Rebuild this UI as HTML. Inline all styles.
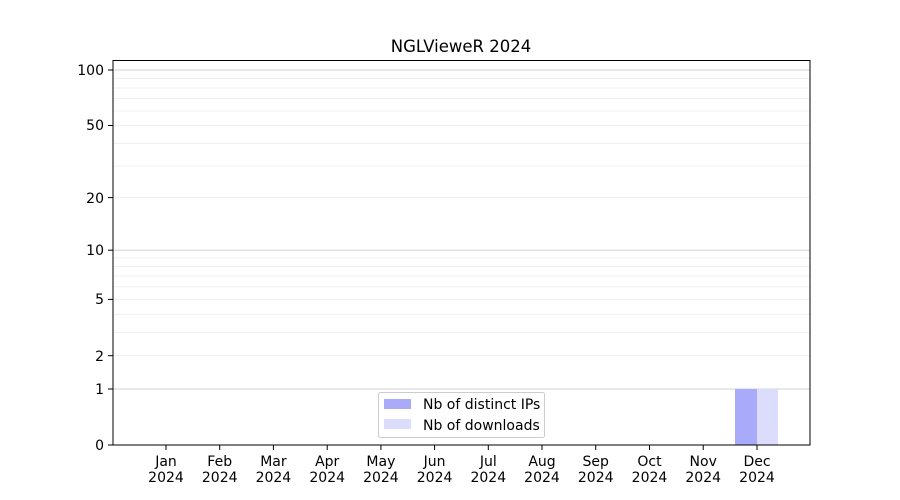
<!DOCTYPE html>
<html><head><style>body{margin:0;background:#fff}svg{display:block}text{font-family:"DejaVu Sans","Liberation Sans",sans-serif;font-size:14px;fill:#000}</style></head>
<body>
<svg width="900" height="500" xmlns="http://www.w3.org/2000/svg">
<rect width="900" height="500" fill="#fff"/>
<g stroke="#ebebeb" stroke-width="0.8">
<line x1="113" x2="810" y1="355.7" y2="355.7"/><line x1="113" x2="810" y1="332.4" y2="332.4"/>
<line x1="113" x2="810" y1="314.2" y2="314.2"/><line x1="113" x2="810" y1="299.4" y2="299.4"/>
<line x1="113" x2="810" y1="286.9" y2="286.9"/><line x1="113" x2="810" y1="276" y2="276"/>
<line x1="113" x2="810" y1="266.5" y2="266.5"/><line x1="113" x2="810" y1="257.9" y2="257.9"/>
<line x1="113" x2="810" y1="197.6" y2="197.6"/><line x1="113" x2="810" y1="166" y2="166"/>
<line x1="113" x2="810" y1="143.3" y2="143.3"/><line x1="113" x2="810" y1="125.5" y2="125.5"/>
<line x1="113" x2="810" y1="111" y2="111"/><line x1="113" x2="810" y1="98.6" y2="98.6"/>
<line x1="113" x2="810" y1="88" y2="88"/><line x1="113" x2="810" y1="78.5" y2="78.5"/>
</g>
<g stroke="#d0d0d0" stroke-width="1">
<line x1="113" x2="810" y1="389" y2="389"/><line x1="113" x2="810" y1="250.2" y2="250.2"/><line x1="113" x2="810" y1="70" y2="70"/>
</g>
<rect x="735" y="389" width="22" height="56" fill="#aaaafb"/>
<rect x="757" y="389" width="21" height="56" fill="#dcdcfc"/>
<rect x="113" y="60.5" width="697" height="384.5" fill="none" stroke="#000" stroke-width="1"/>
<g stroke="#000">
<line x1="108" x2="113" y1="445" y2="445"/><line x1="108" x2="113" y1="389" y2="389"/>
<line x1="108" x2="113" y1="355.7" y2="355.7"/><line x1="108" x2="113" y1="299.4" y2="299.4"/>
<line x1="108" x2="113" y1="250.2" y2="250.2"/><line x1="108" x2="113" y1="197.6" y2="197.6"/>
<line x1="108" x2="113" y1="125.5" y2="125.5"/><line x1="108" x2="113" y1="70" y2="70"/>
</g>
<g text-anchor="end">
<text x="104" y="450">0</text><text x="104" y="394">1</text><text x="104" y="361">2</text>
<text x="104" y="304">5</text><text x="104" y="255">10</text><text x="104" y="203">20</text>
<text x="104" y="130">50</text><text x="104" y="75">100</text>
</g>
<g stroke="#000">
<line x1="166" x2="166" y1="445" y2="450"/><line x1="219.7" x2="219.7" y1="445" y2="450"/>
<line x1="273.4" x2="273.4" y1="445" y2="450"/><line x1="327.2" x2="327.2" y1="445" y2="450"/>
<line x1="380.9" x2="380.9" y1="445" y2="450"/><line x1="434.6" x2="434.6" y1="445" y2="450"/>
<line x1="488.3" x2="488.3" y1="445" y2="450"/><line x1="542" x2="542" y1="445" y2="450"/>
<line x1="595.7" x2="595.7" y1="445" y2="450"/><line x1="649.5" x2="649.5" y1="445" y2="450"/>
<line x1="703.2" x2="703.2" y1="445" y2="450"/><line x1="757" x2="757" y1="445" y2="450"/>
</g>
<g text-anchor="middle">
<text x="166" y="466">Jan</text><text x="219.7" y="466">Feb</text><text x="273.4" y="466">Mar</text>
<text x="327.2" y="466">Apr</text><text x="380.9" y="466">May</text><text x="434.6" y="466">Jun</text>
<text x="488.3" y="466">Jul</text><text x="542" y="466">Aug</text><text x="595.7" y="466">Sep</text>
<text x="649.5" y="466">Oct</text><text x="703.2" y="466">Nov</text><text x="757" y="466">Dec</text>
<text x="166" y="482">2024</text><text x="219.7" y="482">2024</text><text x="273.4" y="482">2024</text>
<text x="327.2" y="482">2024</text><text x="380.9" y="482">2024</text><text x="434.6" y="482">2024</text>
<text x="488.3" y="482">2024</text><text x="542" y="482">2024</text><text x="595.7" y="482">2024</text>
<text x="649.5" y="482">2024</text><text x="703.2" y="482">2024</text><text x="757" y="482">2024</text>
<text x="461" y="52" style="font-size:16.5px">NGLVieweR 2024</text>
</g>
<rect x="378.5" y="392.5" width="166" height="45" rx="2" fill="#fff" fill-opacity="0.85" stroke="#ccc"/>
<rect x="384" y="399" width="27" height="10" fill="#aaaafb"/>
<rect x="384" y="419" width="27" height="10" fill="#dcdcfc"/>
<text x="423" y="409">Nb of distinct IPs</text>
<text x="423" y="430">Nb of downloads</text>
</svg>
</body></html>
